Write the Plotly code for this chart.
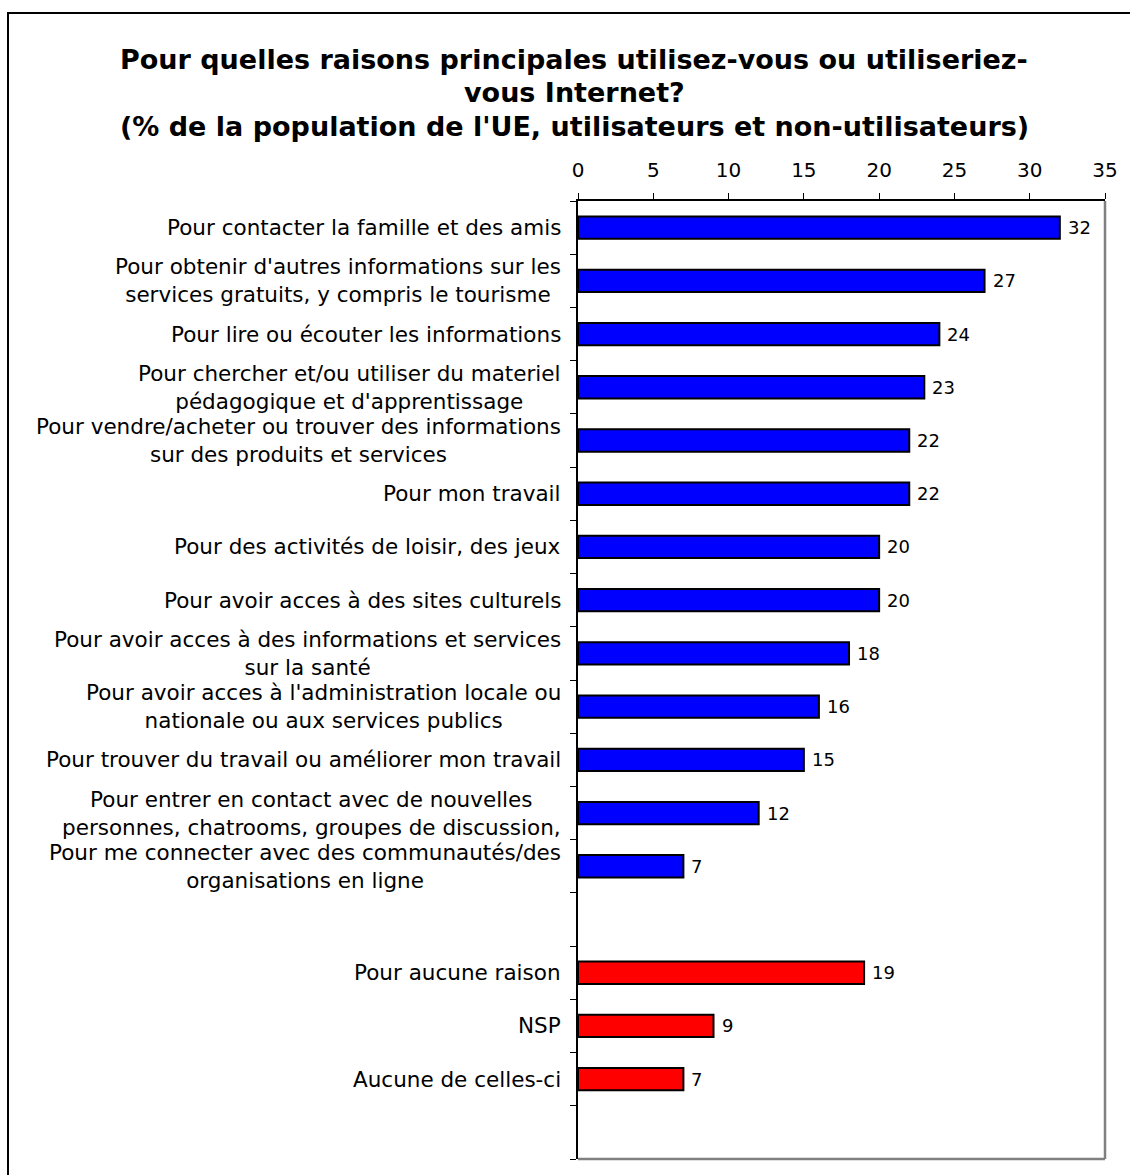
import plotly.graph_objects as go

# Reasons for using the Internet (% of EU population)
usage_labels = [
    "Pour contacter la famille et des amis",
    "Pour obtenir d'autres informations sur les<br>services gratuits, y compris le tourisme",
    "Pour lire ou écouter les informations",
    "Pour chercher et/ou utiliser du materiel<br>pédagogique et d'apprentissage",
    "Pour vendre/acheter ou trouver des informations<br>sur des produits et services",
    "Pour mon travail",
    "Pour des activités de loisir, des jeux",
    "Pour avoir acces à des sites culturels",
    "Pour avoir acces à des informations et services<br>sur la santé",
    "Pour avoir acces à l'administration locale ou<br>nationale ou aux services publics",
    "Pour trouver du travail ou améliorer mon travail",
    "Pour entrer en contact avec de nouvelles<br>personnes, chatrooms, groupes de discussion,",
    "Pour me connecter avec des communautés/des<br>organisations en ligne",
]
usage_values = [32, 27, 24, 23, 22, 22, 20, 20, 18, 16, 15, 12, 7]

no_use_labels = ["Pour aucune raison", "NSP", "Aucune de celles-ci"]
no_use_values = [19, 9, 7]

x_ticks = [0, 5, 10, 15, 20, 25, 30, 35]

title_lines = [
    "Pour quelles raisons principales utilisez-vous ou utiliseriez-",
    "vous Internet?",
    "(% de la population de l'UE, utilisateurs et non-utilisateurs)",
]

# Slot layout: blue group, one empty slot, red group, one empty slot
usage_pos = list(range(len(usage_values)))
no_use_start = len(usage_values) + 1
no_use_pos = [no_use_start + i for i in range(len(no_use_values))]
n_slots = no_use_start + len(no_use_values) + 1

W, H = 1130, 1175
L, R, T, B = 578, 25, 201, 16
PW, PH = W - L - R, H - T - B


def px_x(p):
    return (p - L) / PW


def px_y(p):
    return (H - B - p) / PH


FONT = "DejaVu Sans, Verdana, sans-serif"

fig = go.Figure()
for pos, vals, color in [
    (usage_pos, usage_values, "#0000FF"),
    (no_use_pos, no_use_values, "#FF0000"),
]:
    fig.add_trace(go.Bar(
        x=vals, y=pos, orientation="h", width=0.42,
        marker=dict(color=color, line=dict(color="black", width=2)),
        showlegend=False, hoverinfo="skip",
    ))

annotations = []
# category labels, right-aligned against the axis, lines centred
for pos, lab in zip(usage_pos + no_use_pos, usage_labels + no_use_labels):
    annotations.append(dict(
        x=0, xref="paper", y=pos, yref="y", text=lab, showarrow=False,
        xanchor="right", yanchor="middle", align="center", xshift=-15,
        font=dict(size=21.5, color="black", family=FONT),
    ))

# value labels next to each bar end
for pos, val in zip(usage_pos + no_use_pos, usage_values + no_use_values):
    annotations.append(dict(
        x=val, xref="x", y=pos, yref="y", text=str(val), showarrow=False,
        xanchor="left", yanchor="middle", xshift=6,
        font=dict(size=18, color="black", family=FONT),
    ))

# title, one line at a time
for line, yc in zip(title_lines, [59, 92, 127]):
    annotations.append(dict(
        x=px_x(574), y=px_y(yc), xref="paper", yref="paper",
        text="<b>" + line + "</b>", showarrow=False,
        xanchor="center", yanchor="middle",
        font=dict(size=27, color="black", family=FONT),
    ))

shapes = [
    # outer frame
    dict(type="rect", xref="paper", yref="paper",
         x0=px_x(8), x1=px_x(1140), y0=px_y(1190), y1=px_y(13),
         line=dict(color="black", width=2), layer="above"),
    # right and bottom plot borders
    dict(type="line", xref="paper", yref="paper", x0=1, x1=1, y0=0, y1=1,
         line=dict(color="#808080", width=2.5)),
    dict(type="line", xref="paper", yref="paper", x0=0, x1=1, y0=0, y1=0,
         line=dict(color="#808080", width=2.5)),
]

fig.update_layout(
    width=W, height=H,
    margin=dict(l=L, r=R, t=T, b=B),
    paper_bgcolor="white", plot_bgcolor="white",
    font=dict(family=FONT, color="black"),
    annotations=annotations, shapes=shapes,
    xaxis=dict(
        side="top", range=[0, 35], tickvals=x_ticks,
        ticktext=[str(v) for v in x_ticks],
        showgrid=False, zeroline=False, showline=True, linecolor="black", linewidth=1.5,
        ticks="outside", ticklen=6, tickcolor="black", tickwidth=1,
        ticklabelstandoff=8,
        tickfont=dict(size=20, family=FONT), fixedrange=True,
    ),
    yaxis=dict(
        range=[n_slots - 0.5, -0.5],
        tickvals=[i - 0.5 for i in range(n_slots + 1)],
        ticktext=["" for _ in range(n_slots + 1)],
        showgrid=False, zeroline=False, showline=True, linecolor="black", linewidth=1.5,
        ticks="outside", ticklen=6, tickcolor="black", tickwidth=1, fixedrange=True,
    ),
)

fig.write_html("out.html")
